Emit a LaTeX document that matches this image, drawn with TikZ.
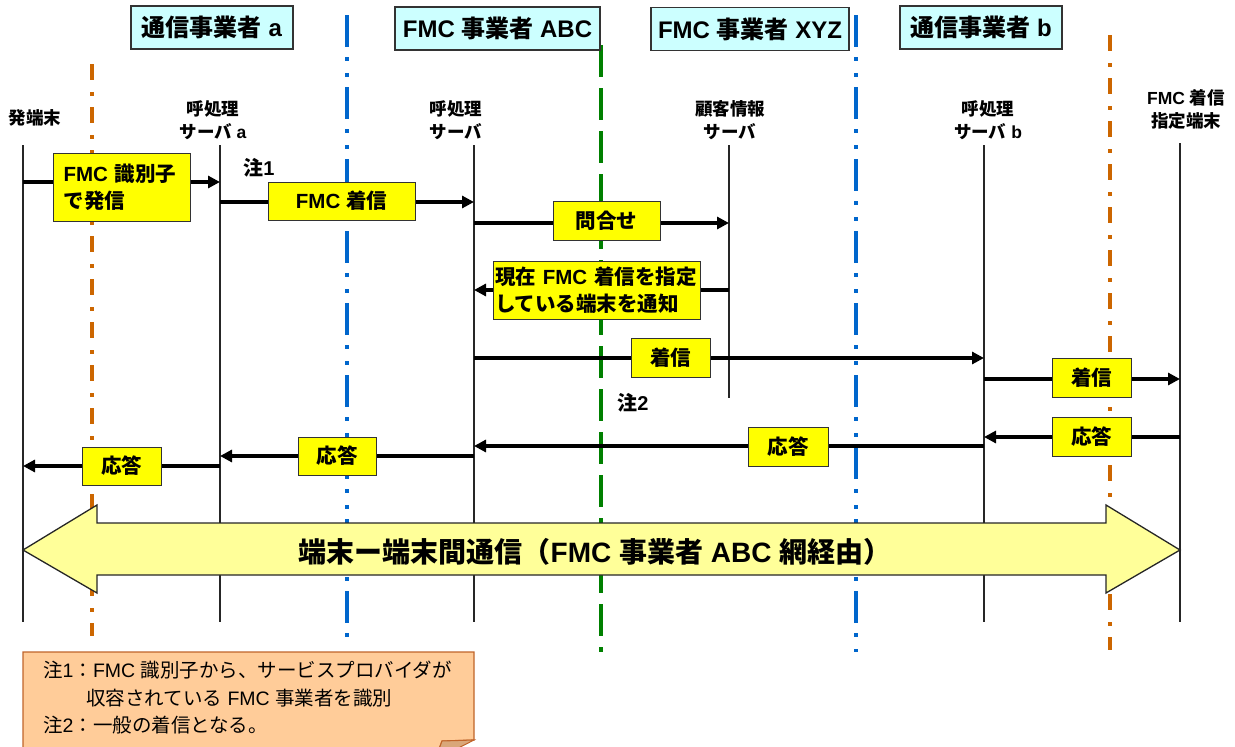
\documentclass[tikz,border=0pt]{standalone}
\usepackage{fontspec}
\setmainfont{Noto Sans CJK JP}
\newfontfamily\lat{Liberation Sans}
\usetikzlibrary{arrows.meta}
\definecolor{hdr}{HTML}{CCFFFF}
\definecolor{lbl}{HTML}{FFFF00}
\definecolor{bigc}{HTML}{FFFF99}
\definecolor{notec}{HTML}{FFCC99}
\definecolor{noteb}{HTML}{C0642A}
\definecolor{foldc}{HTML}{D9A77A}
\definecolor{bl}{HTML}{0066CC}
\definecolor{og}{HTML}{CC6600}
\definecolor{gr}{HTML}{008000}
\tikzset{
  hdrbox/.style={draw=black!80, line width=1.2pt, fill=hdr, inner sep=0pt,
    minimum height=43pt, font=\bfseries\fontsize{24}{26}\selectfont},
  msgbox/.style={draw=black!80, line width=1pt, fill=lbl, inner sep=0pt,
    font=\bfseries\fontsize{20.5}{27}\selectfont},
  llabel/.style={font=\bfseries\fontsize{17.5}{23}\selectfont, align=center, inner sep=0pt},
  lifeline/.style={draw=black!85, line width=1.3pt},
  msg/.style={line width=4pt, -{Triangle[length=12pt,width=12pt]}},
  bluesep/.style={draw=bl, line width=3.5pt, dash pattern=on 32pt off 10pt on 4pt off 12pt on 4pt off 10pt},
  orangesep/.style={draw=og, line width=3.5pt, dash pattern=on 16pt off 12pt on 4pt off 11pt},
  greensep/.style={draw=gr, line width=3.5pt, dash pattern=on 32pt off 11pt},
  notetext/.style={font=\bfseries\fontsize{20}{22}\selectfont, inner sep=0pt}
}
\begin{document}
\begin{tikzpicture}[x=1pt,y=-1pt]
\useasboundingbox (0,0) rectangle (1235,747);

% separators
\draw[orangesep] (92,64) -- (92,636);
\draw[orangesep] (1110,35) -- (1110,650);
\draw[bluesep] (347,15) -- (347,640);
\draw[bluesep] (856,15) -- (856,652);
\draw[greensep] (601,45) -- (601,652);

% headers
\node[hdrbox, minimum width=162pt] (ha) at (212,27.5) {通信事業者{\lat\ a}};
\node[hdrbox, minimum width=205pt] (habc) at (497.5,28.5) {{\lat FMC }事業者{\lat\ ABC}};
\node[hdrbox, minimum width=198pt] (hxyz) at (750,29) {{\lat FMC }事業者{\lat\ XYZ}};
\node[hdrbox, minimum width=162pt] (hb) at (981,27.5) {通信事業者{\lat\ b}};

% lifeline labels
\node[llabel] (n1) at (35,118) {発端末};
\node[llabel] (n2) at (213,120) {呼処理\\サーバ{\lat\ a}};
\node[llabel] (n3) at (456,120) {呼処理\\サーバ};
\node[llabel] (n4) at (730,120) {顧客情報\\サーバ};
\node[llabel] (n5) at (988,120) {呼処理\\サーバ{\lat\ b}};
\node[llabel] (n6) at (1186,109) {{\lat FMC }着信\\指定端末};

% lifelines
\coordinate (t1) at (23,145);  \coordinate (b1) at (23,622);
\coordinate (t2) at (220,145); \coordinate (b2) at (220,622);
\coordinate (t3) at (474,145); \coordinate (b3) at (474,622);
\coordinate (t4) at (729,145); \coordinate (b4) at (729,398);
\coordinate (t5) at (984,145); \coordinate (b5) at (984,622);
\coordinate (t6) at (1180,143); \coordinate (b6) at (1180,622);
\foreach \i in {1,...,6} \draw[lifeline] (t\i) -- (b\i);

% big double arrow
\path[draw=black!85, line width=1.3pt, fill=bigc]
  (23,550) -- (97,505) -- (97,523) -- (1106,523) -- (1106,505) -- (1180,550)
  -- (1106,593) -- (1106,575) -- (97,575) -- (97,593) -- cycle;
\node[font=\bfseries\fontsize{28}{30}\selectfont, inner sep=0pt] (bigt) at (595,552)
  {端末ー端末間通信（{\lat FMC }事業者{\lat\ ABC }網経由）};

% message coordinates
\coordinate (m1a) at (23,182);  \coordinate (m1b) at (220,182);
\coordinate (m2a) at (220,202); \coordinate (m2b) at (474,202);
\coordinate (m3a) at (474,223); \coordinate (m3b) at (729,223);
\coordinate (m4a) at (729,290); \coordinate (m4b) at (474,290);
\coordinate (m5a) at (474,358); \coordinate (m5b) at (984,358);
\coordinate (m6a) at (984,379); \coordinate (m6b) at (1180,379);
\coordinate (m7a) at (1180,437); \coordinate (m7b) at (984,437);
\coordinate (m8a) at (984,446); \coordinate (m8b) at (474,446);
\coordinate (m9a) at (474,456); \coordinate (m9b) at (220,456);
\coordinate (m10a) at (220,466); \coordinate (m10b) at (23,466);
\foreach \i in {1,...,10} \draw[msg] (m\i a) -- (m\i b);

% message labels
\node[msgbox, minimum width=137pt, minimum height=68pt, text width=116pt, align=left] (l1) at (121.5,187) {{\lat FMC }識別子\\で発信};
\node[msgbox, minimum width=147pt, minimum height=38pt] (l2) at (341.5,201) {{\lat FMC }着信};
\node[msgbox, minimum width=107pt, minimum height=39pt] (l3) at (606.5,220.5) {問合せ};
\node[msgbox, minimum width=207pt, minimum height=58pt, text width=203pt, align=left] (l4) at (596.5,290) {現在{\lat\ FMC }着信を指定\\している端末を通知};
\node[msgbox, minimum width=79pt, minimum height=39pt] (l5) at (670.5,357.5) {着信};
\node[msgbox, minimum width=79pt, minimum height=39pt] (l6) at (1091.5,377.5) {着信};
\node[msgbox, minimum width=79pt, minimum height=39pt] (l7) at (1091.5,436.5) {応答};
\node[msgbox, minimum width=80pt, minimum height=39pt] (l8) at (788,446.5) {応答};
\node[msgbox, minimum width=78pt, minimum height=38pt] (l9) at (337,456) {応答};
\node[msgbox, minimum width=79pt, minimum height=38pt] (l10) at (121.5,466) {応答};

\node[notetext] (c1) at (259,168) {注{\lat 1}};
\node[notetext] (c2) at (633,403) {注{\lat 2}};

% note box
\path[draw=noteb, line width=1.2pt, fill=notec]
  (23,652) -- (474,652) -- (474,740) -- (442,741) -- (435,760) -- (23,760) -- cycle;
\path[draw=noteb, line width=1pt, fill=foldc] (474,740) -- (442,741) -- (435,760) -- cycle;
\node[anchor=north west, align=left, inner sep=0pt, font=\fontsize{19.5}{27.5}\selectfont] (nt) at (43,661)
  {注{\lat 1}：{\lat FMC }識別子から、サービスプロバイダが\\\hspace*{43pt}収容されている{\lat\ FMC }事業者を識別\\注{\lat 2}：一般の着信となる。};
\end{tikzpicture}
\end{document}
